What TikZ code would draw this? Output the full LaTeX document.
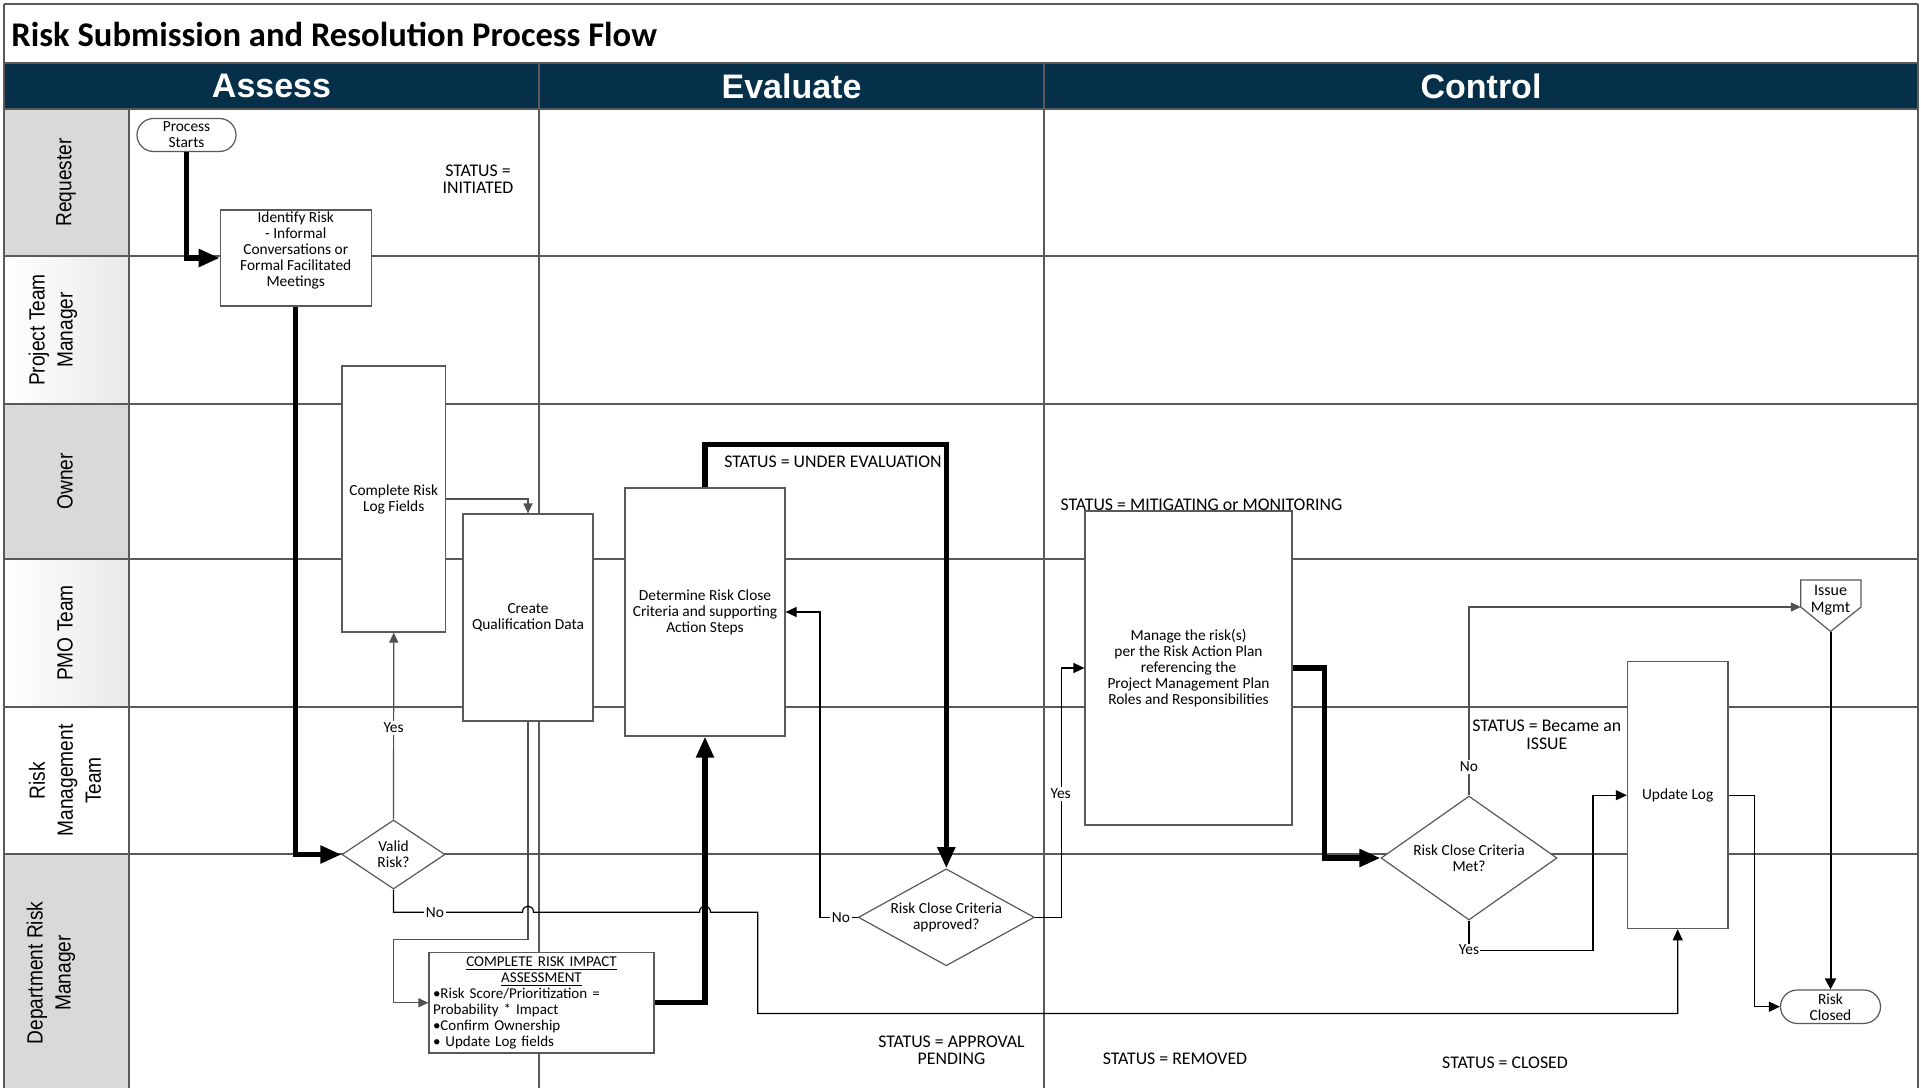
\documentclass[tikz,border=0pt]{standalone}
\usepackage{fontspec}
\setmainfont{Carlito}
\newfontfamily\lanefam[FakeStretch=0.87]{Liberation Sans}
\newfontfamily\headfam{Liberation Sans}
\usetikzlibrary{shapes.geometric,shapes.misc,arrows.meta}
\definecolor{navy}{HTML}{06304A}
\definecolor{lanegray}{HTML}{D9D9D9}
\definecolor{linegray}{HTML}{595959}
\definecolor{conngray}{HTML}{505050}
\newcommand\myboxfont{\fontsize{7.7}{8}\selectfont}
\newcommand\mystfont{\fontsize{8.9}{8.7}\selectfont}
\newcommand\mylanefont{\lanefam\fontsize{11}{14}\selectfont}
\tikzset{
  gridline/.style={draw=linegray, line width=0.75pt},
  box/.style={draw=linegray, line width=0.6pt, fill=white, align=center, font=\myboxfont, inner sep=1pt},
  dbox/.style={box, diamond, inner sep=0pt},
  term/.style={box, rounded rectangle},
  status/.style={align=center, font=\mystfont, inner sep=0pt},
  lane/.style={rotate=90, align=center, font=\mylanefont, inner sep=0pt},
  head/.style={font=\headfam\bfseries\fontsize{17}{20}\selectfont, text=white, inner sep=0pt},
  conn/.style={line width=0.6pt, -{Triangle[length=5.5pt,width=5pt]}},
  gconn/.style={conn, draw=conngray, -{Triangle[length=5pt,width=4.5pt,fill=conngray]}},
  bigconn/.style={line width=2.6pt, -{Triangle[length=10.5pt,width=8.5pt]}},
  midconn/.style={line width=1pt, -{Triangle[length=5.5pt,width=5.5pt]}},
  lbl/.style={fill=white, inner sep=1pt, font=\myboxfont},
}
\begin{document}
\begin{tikzpicture}[x=0.5pt,y=-0.5pt]
\useasboundingbox (0,0) rectangle (1921,1088);
% ---------- frame ----------
\fill[white] (4,4) rectangle (1918,1088);
\fill[navy] (4,63) rectangle (1918,109);
\fill[lanegray] (4,109) rectangle (129,256);
\fill[left color=white, right color=gray!17] (4,256) rectangle (129,404);
\fill[lanegray] (4,404) rectangle (129,559);
\fill[left color=white, right color=gray!17] (4,559) rectangle (129,707);
\fill[white] (4,707) rectangle (129,854);
\fill[lanegray] (4,854) rectangle (129,1088);
\foreach \yy in {4,63,109,256,404,559,707,854} {\draw[gridline] (4,\yy) -- (1918,\yy);}
\draw[gridline] (4,4) -- (4,1088);
\draw[gridline] (1918,4) -- (1918,1088);
\draw[gridline] (129,109) -- (129,1088);
\draw[gridline] (539,63) -- (539,1088);
\draw[gridline] (1044,63) -- (1044,1088);
% ---------- title and headers ----------
\node[anchor=west, font=\bfseries\fontsize{17.3}{20}\selectfont, inner sep=0pt] (title) at (11,34) {Risk Submission and Resolution Process Flow};
\node[head] (hA) at (271.5,86) {Assess};
\node[head] (hE) at (791.5,86) {Evaluate};
\node[head] (hC) at (1481,86) {Control};
% ---------- lane labels ----------
\node[lane] (lReq) at (66,182.5) {Requester};
\node[lane] (lPTM) at (53,330) {Project Team\\Manager};
\node[lane] (lOwn) at (65,481.5) {Owner};
\node[lane] (lPMO) at (65,633) {PMO Team};
\node[lane] (lRMT) at (65,780.5) {Risk\\Management\\Team};
\node[lane] (lDRM) at (51,973) {Department Risk\\Manager};
% ---------- status texts ----------
\node[status] (s1) at (478,179.5) {STATUS =\\INITIATED};
\node[status] (s2) at (833,462) {STATUS = UNDER EVALUATION};
\node[status] (s3) at (1201.5,505) {STATUS = MITIGATING or MONITORING};
\node[status] (s4) at (1546.8,734.6) {STATUS = Became an\\ISSUE};
\node[status] (s5) at (951.5,1050.5) {STATUS = APPROVAL\\PENDING};
\node[status] (s6) at (1175,1059) {STATUS = REMOVED};
\node[status] (s7) at (1505,1063) {STATUS = CLOSED};
% ---------- process nodes ----------
\node[term, minimum width=51.5pt, minimum height=16.5pt] (start) at (186.5,135) {Process\\Starts};
\node[box, minimum width=75.5pt, minimum height=48pt] (identify) at (295.75,258) {\raisebox{3.5pt}[\height][\depth]{\begin{tabular}{@{}c@{}}Identify Risk\\- Informal\\Conversations or\\Formal Facilitated\\Meetings\end{tabular}}};
\node[box, minimum width=51.75pt, minimum height=133pt] (logfields) at (393.75,499) {Complete Risk\\Log Fields};
\node[box, minimum width=65pt, minimum height=103.5pt] (create) at (528,617.5) {Create\\Qualification Data};
\node[dbox, shape aspect=1.5, minimum width=51.5pt, minimum height=34.5pt] (valid) at (393.5,854.5) {Valid\\Risk?};
\node[box, minimum width=112.5pt, minimum height=48.25pt, text width=108.5pt, align=left, inner sep=2pt, font=\fontsize{7.5}{8}\selectfont] (cria) at (541.5,1002.75)
  {\makebox[108.5pt]{\underline{COMPLETE RISK IMPACT}}\\\makebox[108.5pt]{\underline{ASSESSMENT}}\\•Risk Score/Prioritization =\\Probability * Impact\\•Confirm Ownership\\• Update Log fields};
\node[box, minimum width=80pt, minimum height=124pt] (determine) at (705,612) {Determine Risk Close\\Criteria and supporting\\Action Steps};
\node[dbox, shape aspect=1.8, minimum width=88pt, minimum height=48.5pt] (approved) at (946.3,917.3) {Risk Close Criteria\\approved?};
\node[box, minimum width=103.5pt, minimum height=157pt] (manage) at (1188.5,668) {Manage the risk(s)\\per the Risk Action Plan\\referencing the\\Project Management Plan\\Roles and Responsibilities};
\node[dbox, shape aspect=1.42, minimum width=88pt, minimum height=62pt] (met) at (1469,858) {Risk Close Criteria\\Met?};
\node[box, minimum width=50.3pt, minimum height=133.5pt] (updatelog) at (1677.7,795.2) {Update Log};
\node[term, minimum width=52pt, minimum height=16.7pt] (riskclosed) at (1830.5,1006.7) {Risk\\Closed};
% off-page reference
\coordinate (iA) at (1800.8,580);
\coordinate (iB) at (1861,580);
\coordinate (iC) at (1861,607);
\coordinate (iD) at (1830.5,631.5);
\coordinate (iE) at (1800.8,607);
\draw[draw=linegray, fill=white, line width=0.6pt] (iA) -- (iB) -- (iC) -- (iD) -- (iE) -- cycle;
\node[align=center, font=\fontsize{8}{8.4}\selectfont, inner sep=0pt] (issue) at (1830.5,600) {Issue\\Mgmt};
% ---------- connectors ----------
\draw[bigconn] (start.south) |- (identify.west);
\draw[bigconn] (identify.south) |- (valid.west);
\draw[gconn] (valid.north) -- node[lbl, pos=0.49] (yesA) {Yes} (logfields.south);
\draw[gconn] (logfields.east) -| (create.north);
\coordinate (c1) at (393.5,939.3);
\draw[gconn] (create.south) |- (c1) |- (cria.west);
\draw[bigconn] (cria.east) -| (determine.south);
\draw[bigconn] (determine.north) -- ++(0,-43) -| (approved.north);
\draw[conn] (approved.west) -- ++(-37.8,0) |- (determine.east);
\node[lbl] (noB) at (841,918) {No};
\draw[conn] (approved.east) -- ++(26.7,0) |- (manage.west);
\node[lbl] (yesB) at (1060.7,794) {Yes};
\draw[bigconn] (manage.east) -- ++(32,0) |- (met.west);
\draw[gconn] (met.north) |- (iE);
\node[lbl] (noC) at (1469,766.5) {No};
\coordinate (y1) at (1592.9,950.6);
\draw[conn] (met.south) |- (y1) |- (updatelog.west);
\node[lbl, inner sep=0.5pt] (yesC) at (1469,950) {Yes};
\draw[conn] (updatelog.east) -- ++(25.6,0) |- (riskclosed.west);
\draw[midconn] (iD) -- (riskclosed.north);
\draw[conn] (valid.south) |- (522.5,912.3) .. controls (522.5,904) and (533.5,904) .. (533.5,912.3)
  -- (699.5,912.3) .. controls (699.5,904) and (710.5,904) .. (710.5,912.3)
  -| (757.7,1013.5) -| (updatelog.south);
\node[lbl] (noA) at (435,912.3) {No};
\end{tikzpicture}
\end{document}
